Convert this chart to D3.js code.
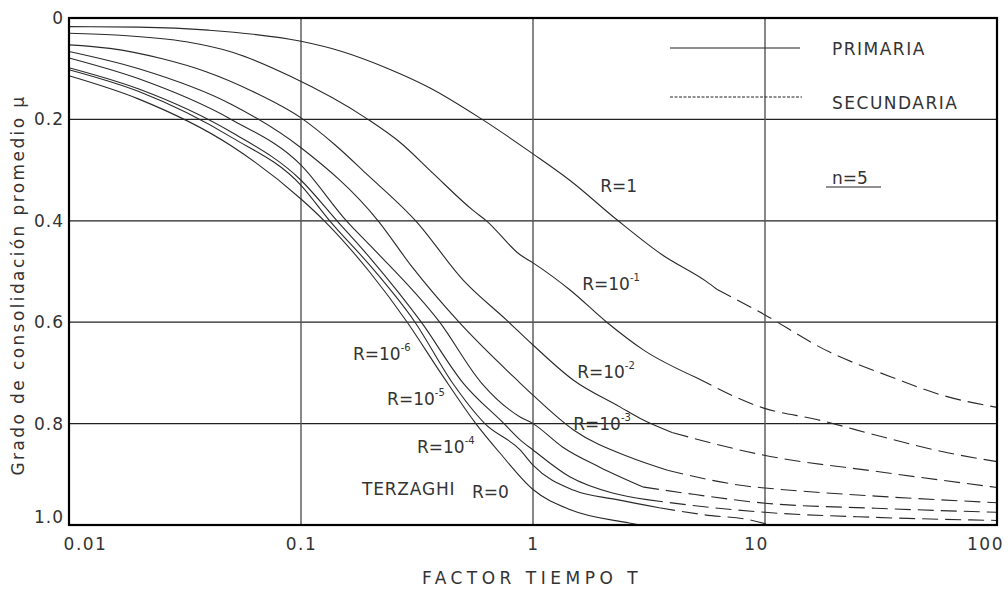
<!DOCTYPE html>
<html>
<head>
<meta charset="utf-8">
<script src="https://cdn.jsdelivr.net/npm/d3@7"></script>
<style>
  body { margin: 0; background: #fff; }
  text { font-family: "DejaVu Sans", sans-serif; fill: #333; }
</style>
</head>
<body>
<svg id="chart" width="1008" height="589"></svg>
<script>
// Curves: [T, U], solid part then dashed (secondary) part
var r1Solid    = [[0.01,0.017],[0.02,0.018],[0.04,0.024],[0.1,0.046],[0.15,0.066],[0.235,0.099],[0.36,0.138],[0.59,0.197],[1,0.268],[1.44,0.32],[2.3,0.398],[3.6,0.467],[5.6,0.52],[6.2,0.535]];
var r1Dashed   = [[6.2,0.535],[9.5,0.58],[19,0.659],[35,0.708],[58,0.744],[100,0.768]];
var r1e1Solid  = [[0.01,0.030],[0.0166,0.034],[0.032,0.047],[0.051,0.068],[0.09,0.115],[0.19,0.197],[0.27,0.247],[0.37,0.306],[0.55,0.379],[0.63,0.40],[0.88,0.467],[1,0.483],[1.44,0.536],[2.08,0.60],[3,0.655],[5.1,0.71]];
var r1e1Dashed = [[5.1,0.71],[9.8,0.769],[16.7,0.792],[32,0.826],[62,0.858],[100,0.875]];
var r1e2Solid  = [[0.01,0.053],[0.015,0.060],[0.025,0.080],[0.039,0.106],[0.062,0.145],[0.1,0.197],[0.14,0.25],[0.19,0.306],[0.315,0.402],[0.5,0.517],[0.77,0.596],[1,0.645],[1.49,0.714],[2.37,0.767],[2.9,0.79],[4,0.818]];
var r1e2Dashed = [[4,0.818],[9.8,0.862],[31,0.895],[100,0.926]];
var r1e3Solid  = [[0.01,0.066],[0.02,0.10],[0.05,0.17],[0.1,0.256],[0.215,0.4],[0.3,0.49],[0.48,0.6],[0.88,0.72],[1,0.744],[1.49,0.812],[2.6,0.866],[3.8,0.892]];
var r1e3Dashed = [[3.8,0.892],[8.6,0.924],[10,0.927],[30,0.943],[100,0.956]];
var r1e4Solid  = [[0.01,0.079],[0.02,0.12],[0.05,0.20],[0.1,0.29],[0.157,0.4],[0.2,0.45],[0.396,0.6],[0.6,0.72],[0.88,0.787],[1,0.80],[1.34,0.846],[1.94,0.886],[2.98,0.925]];
var r1e4Dashed = [[2.98,0.925],[5,0.94],[10,0.957],[30,0.967],[100,0.975]];
var r1e5Solid  = [[0.01,0.098],[0.02,0.14],[0.05,0.225],[0.1,0.32],[0.143,0.4],[0.2,0.475],[0.33,0.6],[0.5,0.72],[0.75,0.8],[0.88,0.832],[1,0.852],[1.44,0.905],[2.2,0.937],[3.1,0.95]];
var r1e5Dashed = [[3.1,0.95],[5,0.962],[10,0.975],[30,0.985],[100,0.991]];
var r1e6Solid  = [[0.01,0.102],[0.02,0.145],[0.05,0.235],[0.1,0.33],[0.133,0.4],[0.2,0.49],[0.31,0.6],[0.45,0.72],[0.62,0.8],[0.88,0.852],[1,0.882],[1.49,0.931],[2.3,0.95],[3.5,0.966]];
var r1e6Dashed = [[3.5,0.966],[5.5,0.98],[8.6,0.99],[10.5,1.0]];
var r0Solid    = [[0.01,0.114],[0.02,0.16],[0.05,0.252],[0.1,0.357],[0.126,0.4],[0.2,0.504],[0.287,0.6],[0.4,0.70],[0.567,0.8],[0.72,0.858],[1,0.93],[1.45,0.97],[2.6,0.996],[2.9,1.0]];

var xTicks = [0.01, 0.1, 1, 10, 100];
var xTickLabels = ["0.01", "0.1", "1", "10", "100"];
var yTicks = [0, 0.2, 0.4, 0.6, 0.8, 1.0];
var yTickLabels = ["0", "0.2", "0.4", "0.6", "0.8", "1.0"];

var solidCurves = [r1Solid, r1e1Solid, r1e2Solid, r1e3Solid, r1e4Solid, r1e5Solid, r1e6Solid, r0Solid];
var dashedCurves = [r1Dashed, r1e1Dashed, r1e2Dashed, r1e3Dashed, r1e4Dashed, r1e5Dashed, r1e6Dashed];

// curve labels: [text, exponent, T, U] (T,U = start of the baseline)
var curveLabels = [
    ["R=1", "", 1.95, 0.343],
    ["R=10", "-1", 1.63, 0.536],
    ["R=10", "-2", 1.55, 0.71],
    ["R=10", "-3", 1.49, 0.813],
    ["R=10", "-4", 0.316, 0.858],
    ["R=10", "-5", 0.235, 0.763],
    ["R=10", "-6", 0.1675, 0.675],
    ["R=0", "", 0.546, 0.947]
];

var svg = d3.select("#chart");
var margin = { left: 69, right: 11, top: 18, bottom: 64 };
var width = 1008, height = 589;

var x = d3.scaleLog()
    .domain([0.01, 100])
    .range([margin.left, width - margin.right]);
var y = d3.scaleLinear()
    .domain([0, 1])
    .range([margin.top, height - margin.bottom]);

// grid
svg.selectAll("line.hgrid")
    .data([0.2, 0.4, 0.6, 0.8])
    .enter().append("line")
    .attr("x1", x(0.01)).attr("x2", x(100))
    .attr("y1", d => y(d)).attr("y2", d => y(d))
    .style("stroke", "#222").style("stroke-width", 1.2);

svg.selectAll("line.vgrid")
    .data([0.1, 1, 10])
    .enter().append("line")
    .attr("x1", d => x(d)).attr("x2", d => x(d))
    .attr("y1", y(0)).attr("y2", y(1))
    .style("stroke", "#555").style("stroke-width", 1.4);

// curves
var line = d3.line()
    .x(d => x(d[0]))
    .y(d => y(d[1]))
    .curve(d3.curveMonotoneX);

svg.selectAll("path.solid")
    .data(solidCurves)
    .enter().append("path")
    .attr("d", line)
    .style("fill", "none")
    .style("stroke", "#2a2a2a")
    .style("stroke-width", 1.1);

svg.selectAll("path.dashed")
    .data(dashedCurves)
    .enter().append("path")
    .attr("d", line)
    .style("fill", "none")
    .style("stroke", "#2a2a2a")
    .style("stroke-width", 1.1)
    .style("stroke-dasharray", "16,7");

// frame
svg.append("rect")
    .attr("x", x(0.01)).attr("y", y(0))
    .attr("width", x(100) - x(0.01))
    .attr("height", y(1) - y(0))
    .style("fill", "none")
    .style("stroke", "#000")
    .style("stroke-width", 2.2);

// axes
var xAxis = d3.axisBottom(x)
    .tickValues(xTicks)
    .tickFormat((d, i) => xTickLabels[i])
    .tickSize(0);
var gx = svg.append("g")
    .attr("transform", "translate(0," + y(1) + ")")
    .call(xAxis);
gx.select(".domain").remove();
gx.selectAll("text")
    .attr("y", 13)
    .attr("dy", "0.71em")
    .style("font-size", "17px")
    .style("letter-spacing", "1.5px")
    .style("font-family", "DejaVu Sans")
    .style("fill", "#333")
    .attr("dx", (d, i) => i === 0 ? 16 : (i === 3 ? -9 : (i === 4 ? -12 : 0)));

var yAxis = d3.axisLeft(y)
    .tickValues(yTicks)
    .tickFormat((d, i) => yTickLabels[i])
    .tickSize(0);
var gy = svg.append("g")
    .attr("transform", "translate(" + (x(0.01) - 5) + ",0)")
    .call(yAxis);
gy.select(".domain").remove();
gy.selectAll("text")
    .attr("x", 0)
    .style("font-size", "17px")
    .style("letter-spacing", "1px")
    .style("font-family", "DejaVu Sans")
    .style("fill", "#333")
    .attr("dy", (d, i) => i === 5 ? "-0.12em" : "0.32em");

// axis titles
svg.append("text")
    .attr("x", 532).attr("y", 584)
    .attr("text-anchor", "middle")
    .style("font-size", "17px")
    .style("letter-spacing", "4.5px")
    .text("FACTOR TIEMPO T");

svg.append("text")
    .attr("transform", "translate(24,285) rotate(-90)")
    .attr("text-anchor", "middle")
    .style("font-size", "17px")
    .style("letter-spacing", "2.4px")
    .text("Grado de consolidación promedio μ");

// curve labels
var labels = svg.selectAll("text.curve-label")
    .data(curveLabels)
    .enter().append("text")
    .attr("class", "curve-label")
    .attr("x", d => x(d[2]))
    .attr("y", d => y(d[3]))
    .style("font-size", "17px");
labels.append("tspan").text(d => d[0]);
labels.append("tspan")
    .attr("dy", -9)
    .style("font-size", "10px")
    .text(d => d[1]);

svg.append("text")
    .attr("x", 362).attr("y", 495)
    .style("font-size", "17px")
    .style("letter-spacing", "0.8px")
    .text("TERZAGHI");

// legend
svg.append("line")
    .attr("x1", 670).attr("x2", 800).attr("y1", 48).attr("y2", 48)
    .style("stroke", "#222").style("stroke-width", 1.1);
svg.append("line")
    .attr("x1", 670).attr("x2", 802).attr("y1", 97).attr("y2", 97)
    .style("stroke", "#222").style("stroke-width", 1)
    .style("stroke-dasharray", "3,1.5");
svg.append("text")
    .attr("x", 832).attr("y", 55)
    .style("font-size", "17px")
    .style("letter-spacing", "1.5px")
    .text("PRIMARIA");
svg.append("text")
    .attr("x", 832).attr("y", 109)
    .style("font-size", "17px")
    .style("letter-spacing", "1.5px")
    .text("SECUNDARIA");
svg.append("text")
    .attr("x", 832).attr("y", 184)
    .style("font-size", "17px")
    .text("n=5");
svg.append("line")
    .attr("x1", 826).attr("x2", 881).attr("y1", 187).attr("y2", 187)
    .style("stroke", "#222").style("stroke-width", 1.1);
</script>
</body>
</html>
